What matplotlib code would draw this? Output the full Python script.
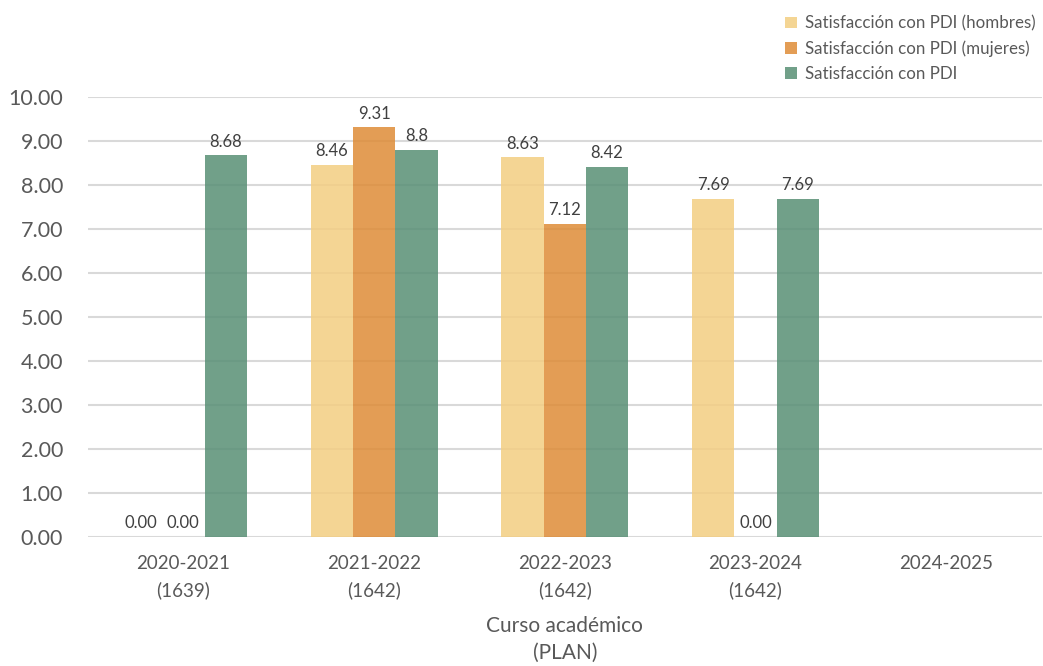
import matplotlib
matplotlib.use("Agg")
import matplotlib.pyplot as plt
import numpy as np

categories = ["2020-2021\n(1639)", "2021-2022\n(1642)", "2022-2023\n(1642)", "2023-2024\n(1642)", "2024-2025"]
hombres = [0.00, 8.46, 8.63, 7.69, None]
mujeres = [0.00, 9.31, 7.12, 0.00, None]
total = [8.68, 8.8, 8.42, 7.69, None]
series_names = ["Satisfacción con PDI (hombres)", "Satisfacción con PDI (mujeres)", "Satisfacción con PDI"]
yticks = [0, 1, 2, 3, 4, 5, 6, 7, 8, 9, 10]

colors = ["#F3CE82", "#DE8C37", "#588F75"]
text_color = "#595959"
plt.rcParams['font.family'] = ['Lato', 'DejaVu Sans']

fig = plt.figure(figsize=(10.43, 6.66), dpi=100)
ax = fig.add_axes([88/1043, 1-537/666, (1041.5-88)/1043, 440/666])

x = np.arange(len(categories))
w = 0.222
series = [hombres, mujeres, total]
fmts = ["{:.2f}", "{:.2f}", "{:g}"]
handles = []
for i, (vals, name, col, fmt) in enumerate(zip(series, series_names, colors, fmts)):
    xs = [xi + (i - 1) * w for xi, v in zip(x, vals) if v is not None]
    vs = [v for v in vals if v is not None]
    bars = ax.bar(xs, vs, width=w, color=col, alpha=0.85, zorder=3, label=name, linewidth=0)
    handles.append(bars)
    for bx, v in zip(xs, vs):
        ax.annotate(fmt.format(v), (bx, v), xytext=(0, 4), textcoords="offset points",
                    ha="center", va="bottom", fontsize=12, color="#404040", zorder=4)

ax.set_xlim(-0.5, len(categories) - 0.5)
ax.set_ylim(0, 10)
ax.set_yticks(yticks)
ax.set_yticklabels([f"{t:.2f}" for t in yticks])
ax.set_xticks(x)
ax.set_xticklabels(categories)
ax.grid(axis="y", color="#D9D9D9", linewidth=1.5, zorder=0)
ax.set_axisbelow(True)
for s in ax.spines.values():
    s.set_visible(False)
ax.tick_params(axis="both", length=0, colors=text_color)
ax.tick_params(axis="y", labelsize=15.5, pad=18)
ax.tick_params(axis="x", labelsize=13.5, pad=13)
for lbl in ax.get_xticklabels():
    lbl.set_linespacing(1.6)
ax.set_xlabel("Curso académico\n(PLAN)", fontsize=15, color=text_color, labelpad=12, linespacing=1.45)

leg = fig.legend(handles=handles, labels=series_names, loc="upper left",
                 bbox_to_anchor=(770/1043, 1 - 0/666), frameon=False, fontsize=12.2,
                 handlelength=0.7, handleheight=0.7, handletextpad=0.45, labelspacing=0.52,
                 labelcolor=text_color)

fig.savefig("out.png", dpi=100)
